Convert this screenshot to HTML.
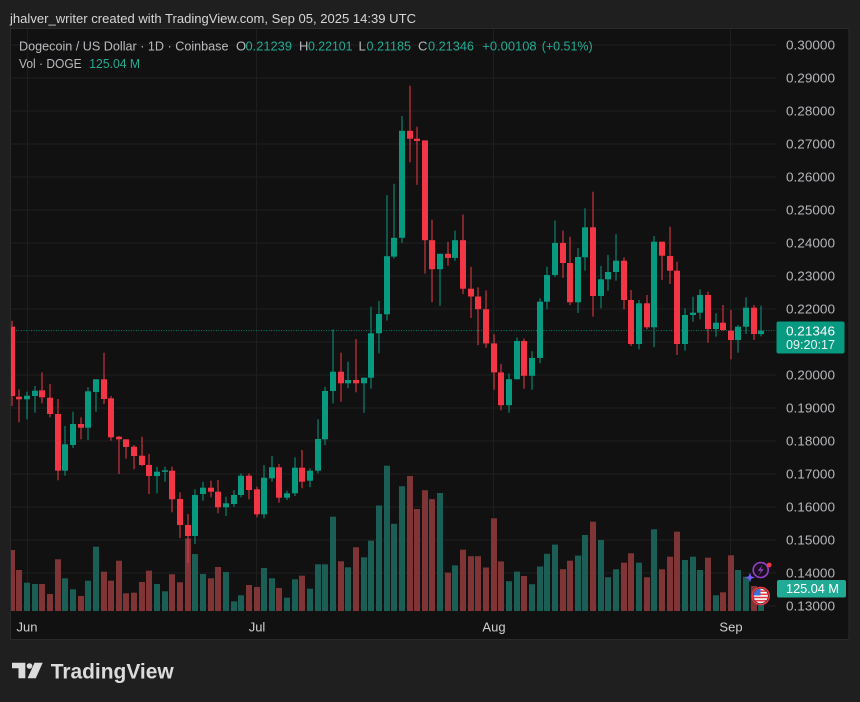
<!DOCTYPE html>
<html><head><meta charset="utf-8"><style>
html,body{margin:0;padding:0;background:#1f1f1f;}
svg{display:block;}
text{font-family:"Liberation Sans",Arial,sans-serif;}
</style></head><body>
<svg width="860" height="702" viewBox="0 0 860 702" xmlns="http://www.w3.org/2000/svg">
<defs>
<clipPath id="plot"><rect x="11" y="29" width="765" height="582"/></clipPath>
<clipPath id="flagc"><circle cx="760.7" cy="596" r="7.2"/></clipPath>
</defs>
<rect x="0" y="0" width="860" height="702" fill="#1f1f1f"/>
<text x="10" y="23" font-size="13" fill="#d6d6d6" textLength="406" lengthAdjust="spacingAndGlyphs">jhalver_writer created with TradingView.com, Sep 05, 2025 14:39 UTC</text>
<rect x="10.5" y="28.5" width="838.5" height="611" fill="#111111" stroke="#2a2a2a" stroke-width="1"/>

<!-- grid -->
<g stroke="#1e1e1e" stroke-width="1">
<line x1="11" x2="776" y1="45" y2="45"/><line x1="11" x2="776" y1="78" y2="78"/><line x1="11" x2="776" y1="111" y2="111"/><line x1="11" x2="776" y1="144" y2="144"/><line x1="11" x2="776" y1="177" y2="177"/><line x1="11" x2="776" y1="210" y2="210"/><line x1="11" x2="776" y1="243" y2="243"/><line x1="11" x2="776" y1="276" y2="276"/><line x1="11" x2="776" y1="309" y2="309"/><line x1="11" x2="776" y1="342" y2="342"/><line x1="11" x2="776" y1="375" y2="375"/><line x1="11" x2="776" y1="408" y2="408"/><line x1="11" x2="776" y1="441" y2="441"/><line x1="11" x2="776" y1="474" y2="474"/><line x1="11" x2="776" y1="507" y2="507"/><line x1="11" x2="776" y1="540" y2="540"/><line x1="11" x2="776" y1="573" y2="573"/><line x1="11" x2="776" y1="606" y2="606"/>
<line x1="27.5" x2="27.5" y1="29" y2="611"/><line x1="256.5" x2="256.5" y1="29" y2="611"/><line x1="493.5" x2="493.5" y1="29" y2="611"/><line x1="730.5" x2="730.5" y1="29" y2="611"/>
</g>

<g clip-path="url(#plot)">
<!-- volume red -->
<g fill="#7f3535">
<rect x="9" y="550" width="6" height="61"/><rect x="16" y="570" width="6" height="41"/><rect x="39" y="584" width="6" height="27"/><rect x="47" y="594" width="6" height="17"/><rect x="55" y="559.3" width="6" height="51.7"/><rect x="78" y="596" width="6" height="15"/><rect x="101" y="571.7" width="6" height="39.3"/><rect x="108" y="580.7" width="6" height="30.3"/><rect x="116" y="560.7" width="6" height="50.3"/><rect x="123" y="593.3" width="6" height="17.7"/><rect x="131" y="592.7" width="6" height="18.3"/><rect x="139" y="582" width="6" height="29"/><rect x="146" y="570.7" width="6" height="40.3"/><rect x="169" y="574.3" width="6" height="36.7"/><rect x="177" y="582.3" width="6" height="28.7"/><rect x="185" y="538.5" width="6" height="72.5"/><rect x="208" y="578.3" width="6" height="32.7"/><rect x="215" y="567" width="6" height="44"/><rect x="246" y="585" width="6" height="26"/><rect x="254" y="587" width="6" height="24"/><rect x="276" y="588" width="6" height="23"/><rect x="299" y="575.7" width="6" height="35.3"/><rect x="338" y="561.3" width="6" height="49.7"/><rect x="353" y="547.3" width="6" height="63.7"/><rect x="407" y="476" width="6" height="135"/><rect x="414" y="509" width="6" height="102"/><rect x="422" y="490.2" width="6" height="120.8"/><rect x="429" y="499.1" width="6" height="111.9"/><rect x="445" y="572.6" width="6" height="38.4"/><rect x="460" y="549.7" width="6" height="61.3"/><rect x="468" y="556.2" width="6" height="54.8"/><rect x="475" y="556.2" width="6" height="54.8"/><rect x="483" y="567.5" width="6" height="43.5"/><rect x="491" y="518.3" width="6" height="92.7"/><rect x="498" y="561.4" width="6" height="49.6"/><rect x="521" y="576" width="6" height="35"/><rect x="560" y="569.2" width="6" height="41.8"/><rect x="567" y="560.7" width="6" height="50.3"/><rect x="590" y="521.7" width="6" height="89.3"/><rect x="621" y="562.7" width="6" height="48.3"/><rect x="628" y="553.3" width="6" height="57.7"/><rect x="644" y="577.3" width="6" height="33.7"/><rect x="659" y="569.3" width="6" height="41.7"/><rect x="667" y="556.7" width="6" height="54.3"/><rect x="674" y="531.7" width="6" height="79.3"/><rect x="705" y="557.7" width="6" height="53.3"/><rect x="720" y="592.3" width="6" height="18.7"/><rect x="728" y="555.3" width="6" height="55.7"/><rect x="751" y="586" width="6" height="25"/>
</g>
<!-- volume green -->
<g fill="#1b5e55">
<rect x="24" y="582.7" width="6" height="28.3"/><rect x="32" y="584" width="6" height="27"/><rect x="62" y="578.3" width="6" height="32.7"/><rect x="70" y="589.3" width="6" height="21.7"/><rect x="85" y="580.7" width="6" height="30.3"/><rect x="93" y="546.7" width="6" height="64.3"/><rect x="154" y="584" width="6" height="27"/><rect x="162" y="591.3" width="6" height="19.7"/><rect x="192" y="554" width="6" height="57"/><rect x="200" y="574" width="6" height="37"/><rect x="223" y="572" width="6" height="39"/><rect x="231" y="601.3" width="6" height="9.7"/><rect x="238" y="595.3" width="6" height="15.7"/><rect x="261" y="568" width="6" height="43"/><rect x="269" y="578.3" width="6" height="32.7"/><rect x="284" y="597.7" width="6" height="13.3"/><rect x="292" y="579.3" width="6" height="31.7"/><rect x="307" y="588.7" width="6" height="22.3"/><rect x="315" y="564.3" width="6" height="46.7"/><rect x="322" y="564.3" width="6" height="46.7"/><rect x="330" y="516.7" width="6" height="94.3"/><rect x="345" y="567.3" width="6" height="43.7"/><rect x="361" y="557.3" width="6" height="53.7"/><rect x="368" y="540.7" width="6" height="70.3"/><rect x="376" y="505.5" width="6" height="105.5"/><rect x="384" y="465.7" width="6" height="145.3"/><rect x="391" y="523.8" width="6" height="87.2"/><rect x="399" y="486.2" width="6" height="124.8"/><rect x="437" y="493" width="6" height="118"/><rect x="452" y="565.4" width="6" height="45.6"/><rect x="506" y="581.2" width="6" height="29.8"/><rect x="514" y="571.6" width="6" height="39.4"/><rect x="529" y="584.2" width="6" height="26.8"/><rect x="537" y="566.5" width="6" height="44.5"/><rect x="544" y="553.8" width="6" height="57.2"/><rect x="552" y="544.6" width="6" height="66.4"/><rect x="575" y="555.6" width="6" height="55.4"/><rect x="582" y="535" width="6" height="76"/><rect x="598" y="540" width="6" height="71"/><rect x="605" y="577.3" width="6" height="33.7"/><rect x="613" y="569.3" width="6" height="41.7"/><rect x="636" y="562.7" width="6" height="48.3"/><rect x="651" y="529.3" width="6" height="81.7"/><rect x="682" y="560" width="6" height="51"/><rect x="690" y="556.7" width="6" height="54.3"/><rect x="697" y="570" width="6" height="41"/><rect x="713" y="595.3" width="6" height="15.7"/><rect x="735" y="570" width="6" height="41"/><rect x="743" y="576.7" width="6" height="34.3"/><rect x="758" y="589" width="6" height="22"/>
</g>

<!-- current price dotted line -->
<line x1="11" x2="776" y1="330.6" y2="330.6" stroke="#089981" stroke-width="1" stroke-dasharray="1 1.5" opacity="0.8"/>

<!-- red candles -->
<g fill="#f23645">
<rect x="11.5" y="320.7" width="1" height="85.3"/><rect x="9" y="326.7" width="6" height="69.3"/>
<rect x="18.5" y="389.3" width="1" height="33"/><rect x="16" y="396.7" width="6" height="2.6"/>
<rect x="41.5" y="372.3" width="1" height="31"/><rect x="39" y="390.3" width="6" height="7"/>
<rect x="49.5" y="384" width="1" height="33.3"/><rect x="47" y="397.7" width="6" height="16.3"/>
<rect x="57.5" y="399" width="1" height="81.3"/><rect x="55" y="414" width="6" height="56.7"/>
<rect x="80.5" y="417.3" width="1" height="22"/><rect x="78" y="424" width="6" height="3.7"/>
<rect x="103.5" y="352.7" width="1" height="51.3"/><rect x="101" y="379.3" width="6" height="19.7"/>
<rect x="110.5" y="396" width="1" height="44.7"/><rect x="108" y="398.3" width="6" height="39"/>
<rect x="118.5" y="436" width="1" height="38"/><rect x="116" y="436.7" width="6" height="2.6"/>
<rect x="125.5" y="439.3" width="1" height="19.4"/><rect x="123" y="439.3" width="6" height="7.7"/>
<rect x="133.5" y="445" width="1" height="24.3"/><rect x="131" y="446.7" width="6" height="9.3"/>
<rect x="141.5" y="436.7" width="1" height="29.3"/><rect x="139" y="455.7" width="6" height="9.3"/>
<rect x="148.5" y="454" width="1" height="40"/><rect x="146" y="465" width="6" height="11"/>
<rect x="171.5" y="466.7" width="1" height="45.6"/><rect x="169" y="470.7" width="6" height="28.6"/>
<rect x="179.5" y="492.3" width="1" height="45.7"/><rect x="177" y="499" width="6" height="26"/>
<rect x="187.5" y="514" width="1" height="49"/><rect x="185" y="525" width="6" height="11"/>
<rect x="210.5" y="480.7" width="1" height="16.6"/><rect x="208" y="487.7" width="6" height="4"/>
<rect x="217.5" y="480" width="1" height="33.3"/><rect x="215" y="491.7" width="6" height="15.6"/>
<rect x="248.5" y="473.3" width="1" height="26"/><rect x="246" y="475.7" width="6" height="14.3"/>
<rect x="256.5" y="486.7" width="1" height="30.6"/><rect x="254" y="489.3" width="6" height="25"/>
<rect x="278.5" y="464" width="1" height="38.7"/><rect x="276" y="467.3" width="6" height="30.4"/>
<rect x="301.5" y="450" width="1" height="38.3"/><rect x="299" y="467.7" width="6" height="14"/>
<rect x="340.5" y="352.7" width="1" height="49"/><rect x="338" y="371.7" width="6" height="11.6"/>
<rect x="355.5" y="339" width="1" height="53.3"/><rect x="353" y="380" width="6" height="3.3"/>
<rect x="409.5" y="85.7" width="1" height="76.6"/><rect x="407" y="130.8" width="6" height="7.9"/>
<rect x="416.5" y="126.7" width="1" height="58.1"/><rect x="414" y="138.7" width="6" height="2.3"/>
<rect x="424.5" y="140.4" width="1" height="133.2"/><rect x="422" y="140.4" width="6" height="99.8"/>
<rect x="431.5" y="219.7" width="1" height="82.6"/><rect x="429" y="240.2" width="6" height="29"/>
<rect x="447.5" y="241.9" width="1" height="23.9"/><rect x="445" y="253.8" width="6" height="4.1"/>
<rect x="462.5" y="214.6" width="1" height="79.5"/><rect x="460" y="240.2" width="6" height="48.5"/>
<rect x="470.5" y="266.8" width="1" height="51.2"/><rect x="468" y="288.7" width="6" height="7.8"/>
<rect x="477.5" y="287.3" width="1" height="57.8"/><rect x="475" y="296.5" width="6" height="12.7"/>
<rect x="485.5" y="290.4" width="1" height="57.4"/><rect x="483" y="309.2" width="6" height="34.2"/>
<rect x="493.5" y="334.1" width="1" height="55.7"/><rect x="491" y="343.4" width="6" height="29"/>
<rect x="500.5" y="363.9" width="1" height="46.4"/><rect x="498" y="372.4" width="6" height="32.8"/>
<rect x="523.5" y="338.6" width="1" height="50.2"/><rect x="521" y="341" width="6" height="34.8"/>
<rect x="562.5" y="230.6" width="1" height="47.2"/><rect x="560" y="242.9" width="6" height="20.1"/>
<rect x="569.5" y="236.7" width="1" height="68.4"/><rect x="567" y="263" width="6" height="39.3"/>
<rect x="592.5" y="191.7" width="1" height="125"/><rect x="590" y="227.3" width="6" height="68.7"/>
<rect x="623.5" y="257.3" width="1" height="52"/><rect x="621" y="260.7" width="6" height="39.3"/>
<rect x="630.5" y="290" width="1" height="56"/><rect x="628" y="300" width="6" height="44"/>
<rect x="646.5" y="295" width="1" height="34.3"/><rect x="644" y="303.3" width="6" height="24"/>
<rect x="661.5" y="241.7" width="1" height="38.3"/><rect x="659" y="241.7" width="6" height="14"/>
<rect x="669.5" y="226.7" width="1" height="57.3"/><rect x="667" y="256" width="6" height="14.7"/>
<rect x="676.5" y="261.7" width="1" height="93.3"/><rect x="674" y="270.7" width="6" height="73.3"/>
<rect x="707.5" y="291.7" width="1" height="51"/><rect x="705" y="295" width="6" height="34"/>
<rect x="722.5" y="305" width="1" height="25.7"/><rect x="720" y="322.7" width="6" height="7.3"/>
<rect x="730.5" y="310" width="1" height="49.3"/><rect x="728" y="330.7" width="6" height="9.3"/>
<rect x="753.5" y="305" width="1" height="35"/><rect x="751" y="307.7" width="6" height="26.3"/>
</g>
<!-- green candles -->
<g fill="#089981">
<rect x="26.5" y="391.7" width="1" height="27.6"/><rect x="24" y="395.7" width="6" height="3.6"/>
<rect x="34.5" y="386" width="1" height="26.7"/><rect x="32" y="390.7" width="6" height="5.3"/>
<rect x="64.5" y="426" width="1" height="49.7"/><rect x="62" y="444.3" width="6" height="26.4"/>
<rect x="72.5" y="411.7" width="1" height="36.3"/><rect x="70" y="424" width="6" height="21"/>
<rect x="87.5" y="387.3" width="1" height="52.7"/><rect x="85" y="391.3" width="6" height="36.4"/>
<rect x="95.5" y="379.3" width="1" height="32.4"/><rect x="93" y="379.3" width="6" height="12.7"/>
<rect x="156.5" y="466.7" width="1" height="26.6"/><rect x="154" y="471.7" width="6" height="4.3"/>
<rect x="164.5" y="466.7" width="1" height="15"/><rect x="162" y="470.3" width="6" height="1.5"/>
<rect x="194.5" y="489.3" width="1" height="54.7"/><rect x="192" y="495" width="6" height="41"/>
<rect x="202.5" y="481.7" width="1" height="19"/><rect x="200" y="487.7" width="6" height="6.3"/>
<rect x="225.5" y="496.7" width="1" height="19.3"/><rect x="223" y="503.3" width="6" height="4"/>
<rect x="233.5" y="490" width="1" height="16.7"/><rect x="231" y="495" width="6" height="9"/>
<rect x="240.5" y="473.3" width="1" height="24"/><rect x="238" y="475.7" width="6" height="19.3"/>
<rect x="263.5" y="465" width="1" height="53.3"/><rect x="261" y="477.7" width="6" height="36.6"/>
<rect x="271.5" y="456" width="1" height="25.7"/><rect x="269" y="467.3" width="6" height="11"/>
<rect x="286.5" y="490.7" width="1" height="9.3"/><rect x="284" y="493.3" width="6" height="4.4"/>
<rect x="294.5" y="457.3" width="1" height="38.7"/><rect x="292" y="467.7" width="6" height="25.6"/>
<rect x="309.5" y="468.3" width="1" height="19"/><rect x="307" y="470.7" width="6" height="10"/>
<rect x="317.5" y="419.3" width="1" height="54"/><rect x="315" y="439" width="6" height="31.7"/>
<rect x="324.5" y="386.7" width="1" height="58.3"/><rect x="322" y="391" width="6" height="48.3"/>
<rect x="332.5" y="329.3" width="1" height="74"/><rect x="330" y="371.7" width="6" height="19.3"/>
<rect x="347.5" y="361.7" width="1" height="26.6"/><rect x="345" y="380" width="6" height="3.3"/>
<rect x="363.5" y="377.7" width="1" height="35"/><rect x="361" y="377.7" width="6" height="5.6"/>
<rect x="370.5" y="306.7" width="1" height="82"/><rect x="368" y="333.3" width="6" height="44.4"/>
<rect x="378.5" y="301" width="1" height="52.3"/><rect x="376" y="314" width="6" height="19.3"/>
<rect x="386.5" y="195.1" width="1" height="125.4"/><rect x="384" y="256.2" width="6" height="58.1"/>
<rect x="393.5" y="183.8" width="1" height="74.7"/><rect x="391" y="237.8" width="6" height="18.8"/>
<rect x="401.5" y="116.1" width="1" height="126.8"/><rect x="399" y="130.8" width="6" height="107"/>
<rect x="439.5" y="253.8" width="1" height="52"/><rect x="437" y="253.8" width="6" height="15.4"/>
<rect x="454.5" y="230.6" width="1" height="30.1"/><rect x="452" y="240.2" width="6" height="17.7"/>
<rect x="508.5" y="373.4" width="1" height="39.3"/><rect x="506" y="379.2" width="6" height="26"/>
<rect x="516.5" y="337.5" width="1" height="41.7"/><rect x="514" y="341" width="6" height="38.2"/>
<rect x="531.5" y="351.2" width="1" height="38.6"/><rect x="529" y="358" width="6" height="17.8"/>
<rect x="539.5" y="298.3" width="1" height="64.9"/><rect x="537" y="301.7" width="6" height="56.3"/>
<rect x="546.5" y="266.8" width="1" height="42.4"/><rect x="544" y="275" width="6" height="26.7"/>
<rect x="554.5" y="220.4" width="1" height="56.6"/><rect x="552" y="242.9" width="6" height="32.1"/>
<rect x="577.5" y="248" width="1" height="65"/><rect x="575" y="257" width="6" height="45.3"/>
<rect x="584.5" y="208.3" width="1" height="62.4"/><rect x="582" y="227.3" width="6" height="30"/>
<rect x="600.5" y="266" width="1" height="42.3"/><rect x="598" y="279.3" width="6" height="16.7"/>
<rect x="607.5" y="255" width="1" height="35.7"/><rect x="605" y="272" width="6" height="7.3"/>
<rect x="615.5" y="234.3" width="1" height="46.4"/><rect x="613" y="260.7" width="6" height="11.3"/>
<rect x="638.5" y="300" width="1" height="49.3"/><rect x="636" y="303.3" width="6" height="40.7"/>
<rect x="653.5" y="236" width="1" height="111.3"/><rect x="651" y="241.7" width="6" height="85.6"/>
<rect x="684.5" y="308.3" width="1" height="42.4"/><rect x="682" y="315" width="6" height="29"/>
<rect x="692.5" y="296.7" width="1" height="25"/><rect x="690" y="312.7" width="6" height="2.3"/>
<rect x="699.5" y="289.3" width="1" height="30"/><rect x="697" y="295" width="6" height="17.7"/>
<rect x="715.5" y="313.3" width="1" height="23.4"/><rect x="713" y="322.7" width="6" height="6.3"/>
<rect x="737.5" y="325" width="1" height="27.7"/><rect x="735" y="326.7" width="6" height="13.3"/>
<rect x="745.5" y="297.3" width="1" height="36.7"/><rect x="743" y="307.7" width="6" height="19"/>
<rect x="760.5" y="305.7" width="1" height="30.6"/><rect x="758" y="330.6" width="6" height="3.5"/>
</g>
</g>

<!-- legend -->
<g font-size="13">
<text x="19" y="50.5" fill="#b9babe" textLength="209.5" lengthAdjust="spacingAndGlyphs">Dogecoin / US Dollar · 1D · Coinbase</text>
<text x="236" y="50.5" fill="#b9babe">O</text>
<text x="245.5" y="50.5" fill="#22ab94" textLength="46.5" lengthAdjust="spacingAndGlyphs">0.21239</text>
<text x="299" y="50.5" fill="#b9babe">H</text>
<text x="308" y="50.5" fill="#22ab94" textLength="44.5" lengthAdjust="spacingAndGlyphs">0.22101</text>
<text x="358.5" y="50.5" fill="#b9babe">L</text>
<text x="366.5" y="50.5" fill="#22ab94" textLength="44.5" lengthAdjust="spacingAndGlyphs">0.21185</text>
<text x="418" y="50.5" fill="#b9babe">C</text>
<text x="428" y="50.5" fill="#22ab94" textLength="46" lengthAdjust="spacingAndGlyphs">0.21346</text>
<text x="482.3" y="50.5" fill="#22ab94" textLength="54.3" lengthAdjust="spacingAndGlyphs">+0.00108</text>
<text x="541.7" y="50.5" fill="#22ab94" textLength="51" lengthAdjust="spacingAndGlyphs">(+0.51%)</text>
<text x="19" y="68" fill="#b9babe" textLength="62.7" lengthAdjust="spacingAndGlyphs">Vol · DOGE</text>
<text x="89.3" y="68" fill="#22ab94" textLength="50.7" lengthAdjust="spacingAndGlyphs">125.04 M</text>
</g>

<!-- price axis -->
<g font-size="13" fill="#b5b6ba">
<text x="786" y="49.5" textLength="49" lengthAdjust="spacingAndGlyphs">0.30000</text>
<text x="786" y="82.5" textLength="49" lengthAdjust="spacingAndGlyphs">0.29000</text>
<text x="786" y="115.5" textLength="49" lengthAdjust="spacingAndGlyphs">0.28000</text>
<text x="786" y="148.5" textLength="49" lengthAdjust="spacingAndGlyphs">0.27000</text>
<text x="786" y="181.5" textLength="49" lengthAdjust="spacingAndGlyphs">0.26000</text>
<text x="786" y="214.5" textLength="49" lengthAdjust="spacingAndGlyphs">0.25000</text>
<text x="786" y="247.5" textLength="49" lengthAdjust="spacingAndGlyphs">0.24000</text>
<text x="786" y="280.5" textLength="49" lengthAdjust="spacingAndGlyphs">0.23000</text>
<text x="786" y="313.5" textLength="49" lengthAdjust="spacingAndGlyphs">0.22000</text>
<text x="786" y="379.5" textLength="49" lengthAdjust="spacingAndGlyphs">0.20000</text>
<text x="786" y="412.5" textLength="49" lengthAdjust="spacingAndGlyphs">0.19000</text>
<text x="786" y="445.5" textLength="49" lengthAdjust="spacingAndGlyphs">0.18000</text>
<text x="786" y="478.5" textLength="49" lengthAdjust="spacingAndGlyphs">0.17000</text>
<text x="786" y="511.5" textLength="49" lengthAdjust="spacingAndGlyphs">0.16000</text>
<text x="786" y="544.5" textLength="49" lengthAdjust="spacingAndGlyphs">0.15000</text>
<text x="786" y="577.5" textLength="49" lengthAdjust="spacingAndGlyphs">0.14000</text>
<text x="786" y="610.5" textLength="49" lengthAdjust="spacingAndGlyphs">0.13000</text>
</g>

<!-- price label -->
<rect x="776.5" y="321.5" width="68" height="32" rx="2" fill="#089981"/>
<text x="786" y="335.5" font-size="13" fill="#ffffff" textLength="49" lengthAdjust="spacingAndGlyphs">0.21346</text>
<text x="786" y="349" font-size="13" fill="#e6f5f2" textLength="49" lengthAdjust="spacingAndGlyphs">09:20:17</text>

<!-- volume label -->
<rect x="777" y="580" width="69" height="17.5" rx="2" fill="#22ab94"/>
<text x="786" y="593.2" font-size="13" fill="#ffffff" textLength="53" lengthAdjust="spacingAndGlyphs">125.04 M</text>

<!-- time axis -->
<g font-size="13" fill="#cfcfcf">
<text x="27" y="631.5" text-anchor="middle">Jun</text>
<text x="257" y="631.5" text-anchor="middle">Jul</text>
<text x="494" y="631.5" text-anchor="middle">Aug</text>
<text x="731" y="631.5" text-anchor="middle">Sep</text>
</g>

<!-- icons -->
<circle cx="760.7" cy="570" r="7.5" fill="#1a1222" stroke="#9a3fc9" stroke-width="1.6"/>
<path d="M762.5 565 L757.8 570.8 L761 570.8 L758.8 575.3 L763.8 569.2 L760.6 569.2 Z" fill="#9a3fc9"/>
<circle cx="769.2" cy="565" r="2.4" fill="#f23645"/>
<path d="M750 572.5 L751.2 576.3 L755 577.5 L751.2 578.7 L750 582.5 L748.8 578.7 L745 577.5 L748.8 576.3 Z" fill="#7c5cff"/>
<circle cx="760.7" cy="596" r="9.3" fill="#f23645"/>
<circle cx="760.7" cy="596" r="7.8" fill="#1a1a1a"/>
<g clip-path="url(#flagc)">
<rect x="752" y="588" width="18" height="16" fill="#ffffff"/>
<rect x="752" y="590.3" width="18" height="1.6" fill="#e53945"/>
<rect x="752" y="593.5" width="18" height="1.6" fill="#e53945"/>
<rect x="752" y="596.7" width="18" height="1.6" fill="#e53945"/>
<rect x="752" y="599.9" width="18" height="1.6" fill="#e53945"/>
<rect x="752" y="588" width="8.5" height="7.5" fill="#3b6fd8"/>
</g>

<!-- TradingView logo -->
<g fill="#dcdcdc">
<path d="M12 662.7 H25.3 V678.3 H18.5 V668.3 H12 Z"/>
<circle cx="29.5" cy="666" r="2.8"/>
<path d="M34.5 662.7 H42.7 L35.8 678.3 H27.6 Z"/>
</g>
<text x="50.7" y="678.3" font-size="21.5" font-weight="bold" fill="#dcdcdc" textLength="123" lengthAdjust="spacingAndGlyphs">TradingView</text>
</svg>
</body></html>
